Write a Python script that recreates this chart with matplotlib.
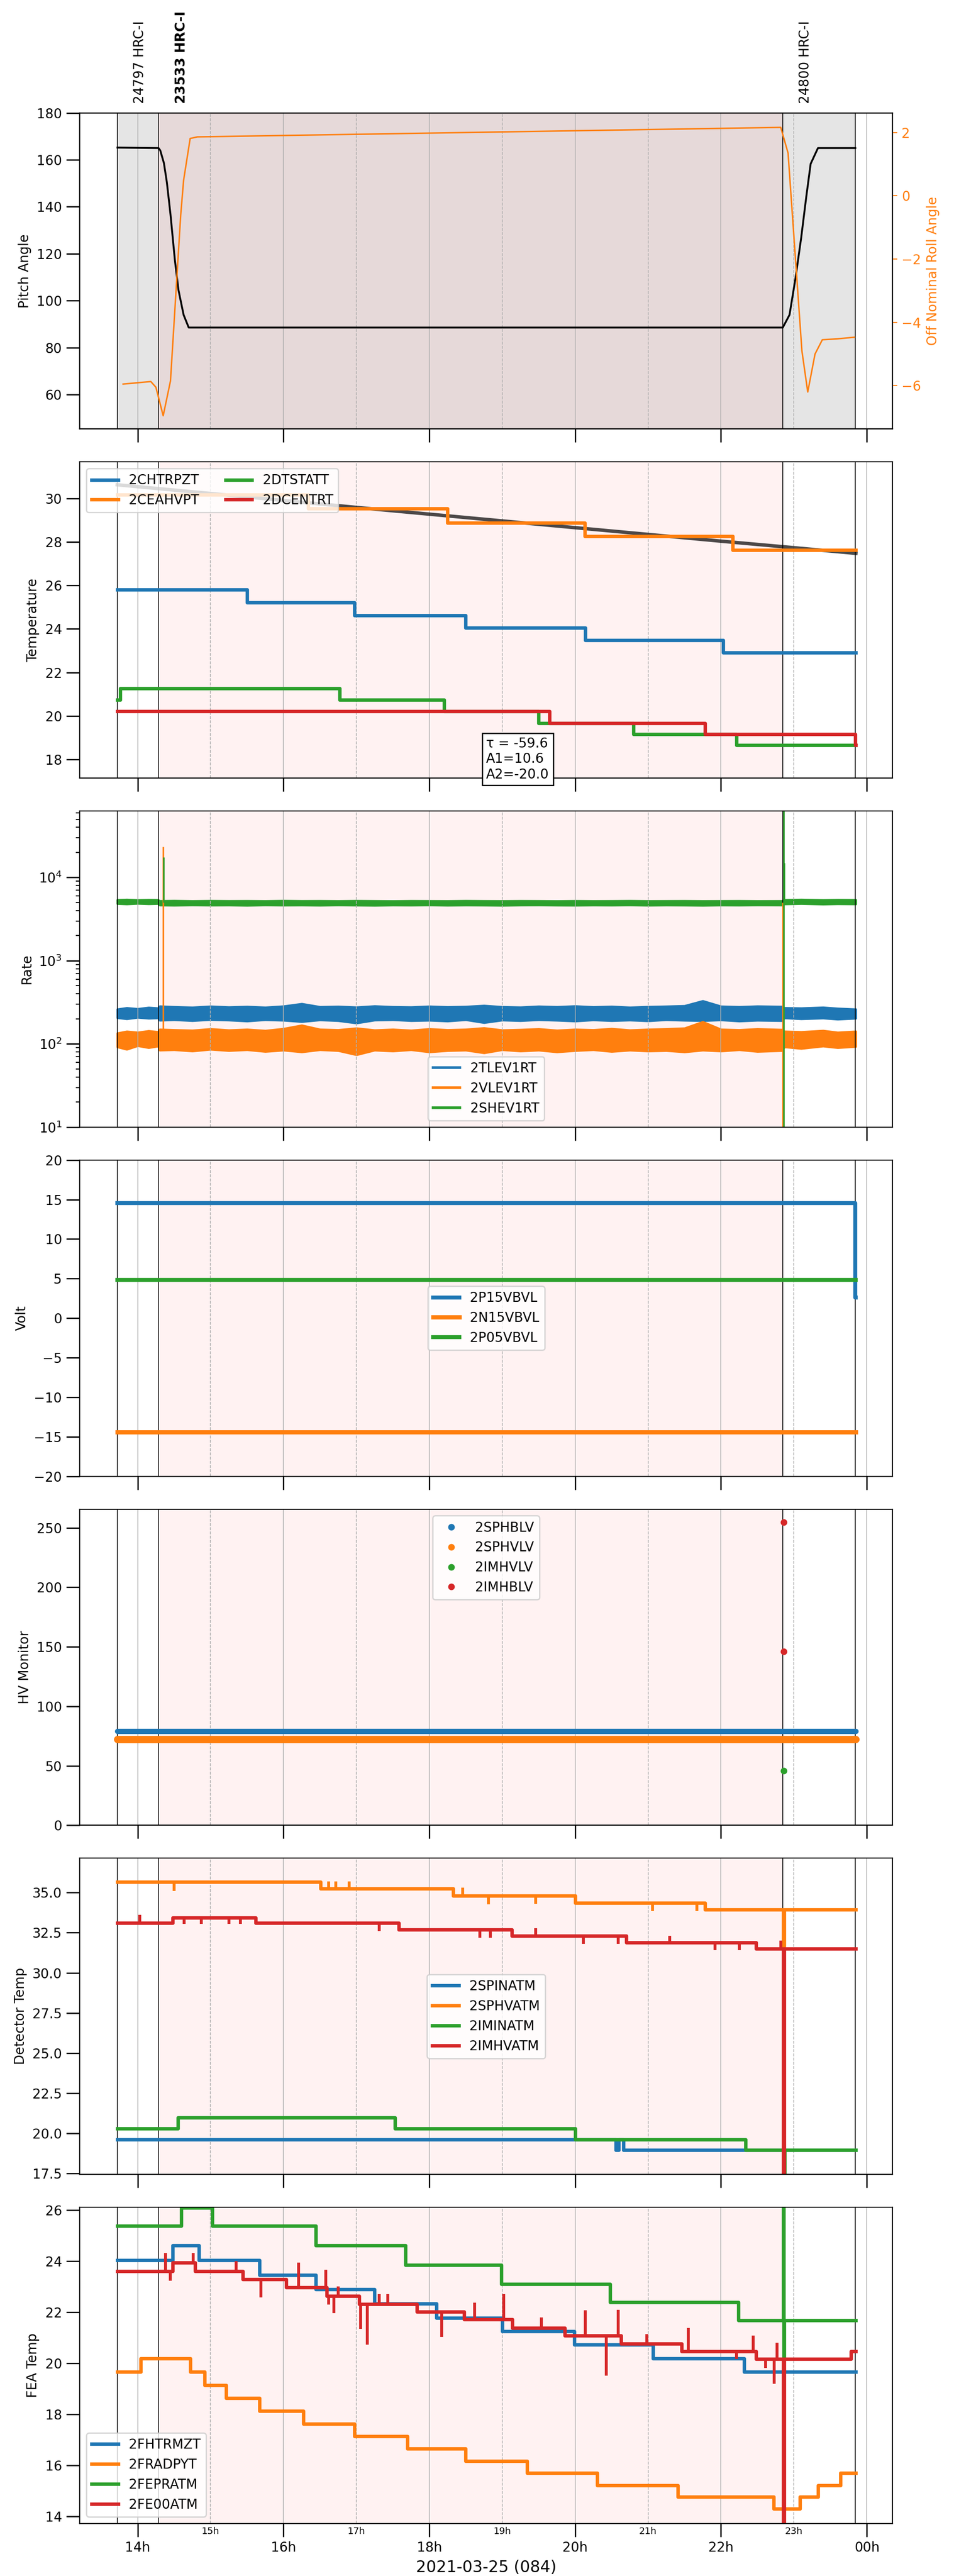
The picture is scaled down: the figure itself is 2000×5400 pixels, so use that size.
import numpy as np
import matplotlib
matplotlib.use("Agg")
import matplotlib.pyplot as plt
from matplotlib.lines import Line2D
from matplotlib.ticker import MultipleLocator, FuncFormatter

# times are decimal hours of 2021-03-25 (day 084)
OBS_START, OBS_END = 13.723, 23.843
SCI_START, SCI_END = 14.286, 22.848
EVENT_TIMES = [13.723, 14.286, 22.848, 23.843]
OBS_LABELS = ["24797 HRC-I", "23533 HRC-I", "24800 HRC-I"]
OBS_LABEL_TIMES = [13.723, 14.286, 22.848]
OBS_LABEL_BOLD = [False, True, False]

# pitch / roll
pitch_t = [13.723, 14.286, 14.31, 14.36, 14.40, 14.45, 14.51, 14.56, 14.63, 14.70,
           22.848, 22.94, 23.02, 23.10, 23.17, 23.23, 23.33, 23.843]
pitch_v = [165.2, 165.0, 164.0, 158.6, 150.5, 136.8, 117.4, 104.5, 94.0, 88.6,
           88.6, 94.0, 109.2, 126.8, 144.3, 158.3, 165.0, 165.0]
roll_t = [13.80, 14.18, 14.25, 14.35, 14.45, 14.59, 14.63, 14.72, 14.82, 22.82,
          22.92, 22.98, 23.11, 23.19, 23.29, 23.39, 23.60, 23.83]
roll_v = [-5.95, -5.87, -6.05, -6.95, -5.85, -0.62, 0.49, 1.81, 1.86, 2.16,
          1.35, -0.62, -4.9, -6.2, -5.0, -4.55, -4.52, -4.47]

# temperature
fit_t = [13.72, 15.0, 16.0, 17.0, 18.0, 19.0, 20.0, 21.0, 22.0, 23.0, 23.85]
fit_v = [30.62, 30.22, 29.90, 29.58, 29.27, 28.96, 28.65, 28.34, 28.03, 27.73, 27.47]
chtrpzt_t = [13.72, 15.50, 16.97, 18.50, 20.14, 22.03, 23.85]
chtrpzt_v = [25.80, 25.21, 24.62, 24.05, 23.49, 22.92, 22.92]
ceahvpt_t = [13.72, 16.34, 18.25, 20.13, 22.16, 23.85]
ceahvpt_v = [30.17, 29.52, 28.88, 28.25, 27.63, 27.63]
dtstatt_t = [13.72, 13.76, 16.77, 18.20, 19.50, 20.80, 22.21, 23.85]
dtstatt_v = [20.75, 21.28, 20.75, 20.21, 19.68, 19.17, 18.67, 18.67]
dcentrt_t = [13.72, 19.65, 21.78, 23.84, 23.85]
dcentrt_v = [20.21, 19.68, 19.17, 18.67, 18.67]
fit_text = "\u03c4 = -59.6\nA1=10.6\nA2=-20.0"

# rates (band envelopes)
rate_t = [13.72, 13.85, 14.0, 14.15, 14.28, 14.30, 14.5, 14.75, 15.0, 15.25, 15.5, 15.75,
          16.0, 16.25, 16.5, 16.75, 17.0, 17.25, 17.5, 17.75, 18.0, 18.25, 18.5, 18.75,
          19.0, 19.25, 19.5, 19.75, 20.0, 20.25, 20.5, 20.75, 21.0, 21.25, 21.5, 21.75,
          22.0, 22.25, 22.5, 22.84, 22.87, 23.1, 23.4, 23.6, 23.85]
tlev_hi = [262, 272, 265, 275, 270, 285, 280, 276, 284, 278, 282, 276, 285, 305, 280,
           283, 277, 286, 280, 278, 284, 279, 282, 290, 280, 277, 284, 280, 286, 279,
           283, 276, 281, 284, 288, 330, 284, 280, 285, 282, 272, 270, 276, 268, 262]
tlev_lo = [206, 200, 208, 203, 205, 192, 195, 190, 196, 193, 188, 195, 192, 185, 194,
           190, 178, 193, 195, 190, 192, 188, 195, 180, 193, 190, 195, 192, 188, 194,
           190, 193, 189, 195, 192, 190, 194, 188, 192, 190, 205, 200, 204, 198, 203]
vlev_hi = [135, 142, 138, 144, 140, 150, 148, 146, 152, 147, 150, 145, 153, 168, 150,
           148, 155, 147, 150, 146, 152, 148, 150, 156, 147, 149, 152, 146, 150, 148,
           153, 147, 150, 152, 155, 185, 150, 148, 152, 149, 142, 140, 145, 138, 142]
vlev_lo = [92, 86, 95, 90, 94, 84, 85, 82, 86, 83, 85, 81, 84, 80, 85,
           83, 74, 84, 82, 85, 80, 83, 84, 78, 85, 82, 84, 80, 83, 85,
           81, 84, 82, 83, 80, 84, 82, 85, 81, 83, 92, 88, 94, 90, 93]
shev_hi = [5400, 5450, 5380, 5420, 5400, 5250, 5280, 5240, 5270, 5250, 5260, 5240, 5280,
           5250, 5260, 5240, 5270, 5250, 5230, 5260, 5250, 5240, 5270, 5250, 5240, 5260,
           5250, 5230, 5260, 5240, 5250, 5270, 5240, 5250, 5260, 5240, 5250, 5260, 5240,
           5250, 5400, 5450, 5380, 5420, 5400]
shev_lo = [4850, 4800, 4870, 4820, 4850, 4650, 4630, 4660, 4640, 4650, 4620, 4660, 4640,
           4650, 4630, 4660, 4640, 4620, 4650, 4640, 4660, 4630, 4650, 4640, 4620, 4650,
           4660, 4640, 4630, 4650, 4640, 4660, 4630, 4650, 4640, 4620, 4650, 4640, 4660,
           4650, 4800, 4850, 4780, 4820, 4800]
vlev_spike_t = [14.35, 22.85]
vlev_spike_lo = [120, 1]
vlev_spike_hi = [2.35e4, 5000]
shev_spike_t = [14.355, 22.86, 22.865]
shev_spike_lo = [5000, 1, 5000]
shev_spike_hi = [1.75e4, 1e6, 1.5e4]

# volts
p15vbvl_t = [13.72, 23.843, 23.846]
p15vbvl_v = [14.57, 2.6, 2.6]
n15vbvl_t = [13.72, 23.85]
n15vbvl_v = [-14.44, -14.44]
p05vbvl_t = [13.72, 23.85]
p05vbvl_v = [4.86, 4.86]

# HV monitor
sphblv_t = [13.72, 23.85]
sphblv_v = [79.0, 79.0]
sphvlv_t = [13.72, 23.85]
sphvlv_v = [72.1, 72.1]
imhvlv_t = [22.86]
imhvlv_v = [46.0]
imhblv_t = [22.86, 22.86]
imhblv_v = [254.6, 146.1]

# detector temps
spinatm_t = [13.72, 20.56, 20.60, 20.66, 23.85]
spinatm_v = [19.62, 18.96, 19.62, 18.96, 18.96]
sphvatm_t = [13.72, 16.51, 18.33, 20.00, 21.78, 22.855, 22.865, 23.85]
sphvatm_v = [35.65, 35.24, 34.80, 34.36, 33.95, 31.65, 33.95, 33.95]
sphvatm_spike_t = [14.50, 16.62, 16.72, 16.90, 18.46, 18.81, 19.46, 21.06, 21.67]
sphvatm_spike_v = [35.10, 35.70, 35.70, 35.70, 35.30, 34.28, 34.30, 33.85, 33.85]
iminatm_t = [13.72, 14.55, 17.53, 20.00, 22.34, 22.865, 22.875, 23.85]
iminatm_v = [20.30, 20.99, 20.30, 19.62, 18.96, 10.0, 18.96, 18.96]
imhvatm_t = [13.72, 14.48, 15.62, 17.58, 19.13, 20.70, 22.48, 22.855, 22.865, 23.85]
imhvatm_v = [33.11, 33.44, 33.11, 32.69, 32.30, 31.90, 31.50, 10.0, 31.50, 31.50]
imhvatm_spike_t = [14.03, 14.64, 14.87, 15.25, 15.41, 17.31, 18.69, 18.84, 19.46,
                   20.11, 20.59, 21.30, 21.92, 22.25, 22.55, 22.82]
imhvatm_spike_v = [33.62, 33.05, 33.05, 33.05, 33.05, 32.61, 32.20, 32.20, 32.79,
                   31.80, 31.80, 32.30, 31.40, 31.40, 31.40, 32.00]

# FEA temps
fhtrmzt_t = [13.72, 14.48, 14.84, 15.67, 16.44, 17.25, 18.10, 19.00, 19.99, 21.07, 22.32, 23.85]
fhtrmzt_v = [24.04, 24.62, 24.04, 23.47, 22.90, 22.34, 21.79, 21.26, 20.73, 20.19, 19.68, 19.68]
fradpyt_t = [13.72, 14.04, 14.72, 14.92, 15.21, 15.67, 16.27, 16.97, 17.70, 18.50,
             19.34, 20.30, 21.41, 22.72, 23.08, 23.33, 23.64, 23.85]
fradpyt_v = [19.68, 20.19, 19.68, 19.15, 18.65, 18.14, 17.64, 17.14, 16.66, 16.18,
             15.71, 15.23, 14.77, 14.31, 14.77, 15.23, 15.71, 15.71]
fepratm_t = [13.72, 14.60, 15.02, 16.44, 17.67, 18.99, 20.48, 22.24, 22.855, 22.862, 22.868, 23.85]
fepratm_v = [25.39, 26.10, 25.39, 24.62, 23.86, 23.12, 22.40, 21.69, 27.0, 20.2, 21.69, 21.69]
fe00atm_t = [13.72, 14.48, 14.79, 15.44, 16.04, 16.59, 17.04, 17.83, 18.48, 19.14,
             19.86, 20.63, 21.46, 22.48, 22.855, 22.865, 23.78, 23.85]
fe00atm_v = [23.61, 23.95, 23.61, 23.30, 22.98, 22.65, 22.33, 22.02, 21.72, 21.39,
             21.09, 20.78, 20.48, 20.18, 10.0, 20.18, 20.48, 20.48]
fe00atm_spike_t = [14.38, 14.45, 14.76, 15.35, 15.69, 16.21, 16.58, 16.62, 16.69, 16.75,
                   17.06, 17.15, 17.31, 17.43, 18.17, 18.62, 19.02, 19.54, 20.14, 20.43,
                   20.59, 20.98, 21.55, 22.21, 22.44, 22.61, 22.73, 22.77]
fe00atm_spike_v = [24.33, 23.24, 24.33, 24.00, 22.59, 23.95, 23.67, 22.30, 21.97, 23.01,
                   21.35, 20.73, 22.71, 22.71, 21.03, 22.39, 22.71, 21.80, 22.08, 19.53,
                   22.10, 21.15, 21.40, 20.17, 21.10, 19.82, 19.21, 20.82]

XLIM = (13.207, 24.352)
STEP_LW = 2.6


def step_at(t_knots, v_knots, t):
    idx = np.searchsorted(np.asarray(t_knots), np.asarray(t), side="right") - 1
    return np.asarray(v_knots)[idx]


def decorate(ax, shade_all=False):
    if shade_all:
        ax.axvspan(OBS_START, OBS_END, color="gray", alpha=0.2, lw=0, zorder=0)
    ax.axvspan(SCI_START, SCI_END, color="red", alpha=0.05, lw=0, zorder=0)
    for t in EVENT_TIMES:
        ax.axvline(t, color="black", lw=0.6, zorder=1.6)
    ax.grid(which="major", axis="x", color="#b0b0b0", lw=0.6)
    ax.grid(which="minor", axis="x", color="#b0b0b0", lw=0.6, ls="--")
    ax.tick_params(axis="y", which="major", length=10, width=1)
    ax.tick_params(axis="y", which="minor", length=2.8, width=0.8)
    ax.tick_params(axis="x", which="major", length=10, width=1)
    ax.tick_params(axis="x", which="minor", length=0, pad=2.5, labelsize=7)


def hour_label(x, pos):
    return f"{int(round(x)) % 24:02d}h"


def plot_pointing(ax):
    decorate(ax, shade_all=True)
    ax.plot(pitch_t, pitch_v, color="black", lw=1.4)
    ax.set_ylim(45.4, 180)
    ax.yaxis.set_major_locator(MultipleLocator(20))
    ax.set_ylabel("Pitch Angle")

    axr = ax.twinx()
    axr.plot(roll_t, roll_v, color="C1", lw=1.1)
    axr.set_ylim(-7.37, 2.62)
    axr.yaxis.set_major_locator(MultipleLocator(2))
    axr.tick_params(axis="y", colors="C1")
    axr.set_ylabel("Off Nominal Roll Angle", color="C1")

    for label, t, bold in zip(OBS_LABELS, OBS_LABEL_TIMES, OBS_LABEL_BOLD):
        ax.annotate(
            label,
            xy=(t, 1), xycoords=("data", "axes fraction"),
            xytext=(17, 7), textcoords="offset points",
            rotation=90, ha="center", va="bottom", fontsize=10,
            fontweight="bold" if bold else "normal",
        )


def plot_temperature(ax):
    decorate(ax)
    ax.plot(fit_t, fit_v, color="black", alpha=0.7, lw=2.6, zorder=2)
    ax.plot(chtrpzt_t, chtrpzt_v, drawstyle="steps-post", lw=STEP_LW, label="2CHTRPZT")
    ax.plot(ceahvpt_t, ceahvpt_v, drawstyle="steps-post", lw=STEP_LW, label="2CEAHVPT")
    ax.plot(dtstatt_t, dtstatt_v, drawstyle="steps-post", lw=STEP_LW, label="2DTSTATT")
    ax.plot(dcentrt_t, dcentrt_v, drawstyle="steps-post", lw=STEP_LW, label="2DCENTRT")
    ax.set_ylim(17.15, 31.67)
    ax.yaxis.set_major_locator(MultipleLocator(2))
    ax.set_ylabel("Temperature")
    ax.legend(loc="upper left", ncol=2)
    ax.text(0.5, 0.06, fit_text, transform=ax.transAxes, ha="left", va="center",
            fontsize=10, zorder=10,
            bbox=dict(boxstyle="square,pad=0.3", facecolor="white", edgecolor="black"))


def plot_rates(ax):
    decorate(ax)
    ax.set_yscale("log")
    ax.fill_between(rate_t, tlev_lo, tlev_hi, color="C0", lw=1.5)
    ax.fill_between(rate_t, vlev_lo, vlev_hi, color="C1", lw=1.5)
    ax.fill_between(rate_t, shev_lo, shev_hi, color="C2", lw=1.5)
    ax.vlines(vlev_spike_t, vlev_spike_lo, vlev_spike_hi, color="C1", lw=1.2)
    ax.vlines(shev_spike_t, shev_spike_lo, shev_spike_hi, color="C2", lw=1.2)
    ax.set_ylim(10, 6.3e4)
    ax.set_ylabel("Rate")
    handles = [Line2D([], [], color=f"C{i}", lw=2) for i in range(3)]
    ax.legend(handles, ["2TLEV1RT", "2VLEV1RT", "2SHEV1RT"], loc="lower center")


def plot_volts(ax):
    decorate(ax)
    ax.plot(p15vbvl_t, p15vbvl_v, drawstyle="steps-post", lw=3, label="2P15VBVL")
    ax.plot(n15vbvl_t, n15vbvl_v, lw=3.2, label="2N15VBVL")
    ax.plot(p05vbvl_t, p05vbvl_v, lw=3, label="2P05VBVL")
    ax.set_ylim(-20, 20)
    ax.yaxis.set_major_locator(MultipleLocator(5))
    ax.set_ylabel("Volt")
    ax.legend(loc="center")


def plot_hv(ax):
    decorate(ax)
    ax.plot(sphblv_t, sphblv_v, color="C0", lw=4, solid_capstyle="round")
    ax.plot(sphvlv_t, sphvlv_v, color="C1", lw=5.5, solid_capstyle="round")
    ax.plot(imhvlv_t, imhvlv_v, ".", color="C2", ms=8)
    ax.plot(imhblv_t, imhblv_v, ".", color="C3", ms=8)
    ax.set_ylim(0, 265.7)
    ax.yaxis.set_major_locator(MultipleLocator(50))
    ax.set_ylabel("HV Monitor")
    handles = [Line2D([], [], color=f"C{i}", marker=".", ls="none", ms=8) for i in range(4)]
    ax.legend(handles, ["2SPHBLV", "2SPHVLV", "2IMHVLV", "2IMHBLV"], loc="upper center")


def plot_detector(ax):
    decorate(ax)
    ax.plot(spinatm_t, spinatm_v, drawstyle="steps-post", lw=STEP_LW, label="2SPINATM")
    ax.plot(sphvatm_t, sphvatm_v, drawstyle="steps-post", lw=STEP_LW, label="2SPHVATM")
    ax.vlines(sphvatm_spike_t, step_at(sphvatm_t, sphvatm_v, sphvatm_spike_t),
              sphvatm_spike_v, color="C1", lw=2.2)
    ax.plot(iminatm_t, iminatm_v, drawstyle="steps-post", lw=STEP_LW, label="2IMINATM")
    ax.plot(imhvatm_t, imhvatm_v, drawstyle="steps-post", lw=STEP_LW, label="2IMHVATM")
    ax.vlines(imhvatm_spike_t, step_at(imhvatm_t, imhvatm_v, imhvatm_spike_t),
              imhvatm_spike_v, color="C3", lw=2.2)
    ax.set_ylim(17.45, 37.14)
    ax.yaxis.set_major_locator(MultipleLocator(2.5))
    ax.set_ylabel("Detector Temp")
    ax.legend(loc="center")


def plot_fea(ax):
    decorate(ax)
    ax.plot(fhtrmzt_t, fhtrmzt_v, drawstyle="steps-post", lw=STEP_LW, label="2FHTRMZT")
    ax.plot(fradpyt_t, fradpyt_v, drawstyle="steps-post", lw=STEP_LW, label="2FRADPYT")
    ax.plot(fepratm_t, fepratm_v, drawstyle="steps-post", lw=STEP_LW, label="2FEPRATM")
    ax.plot(fe00atm_t, fe00atm_v, drawstyle="steps-post", lw=STEP_LW, label="2FE00ATM")
    ax.vlines(fe00atm_spike_t, step_at(fe00atm_t, fe00atm_v, fe00atm_spike_t),
              fe00atm_spike_v, color="C3", lw=2.2)
    ax.set_ylim(13.73, 26.12)
    ax.yaxis.set_major_locator(MultipleLocator(2))
    ax.set_ylabel("FEA Temp")
    ax.legend(loc="lower left")


def main():
    fig, axes = plt.subplots(7, 1, figsize=(10, 27), dpi=200, sharex=True)
    fig.subplots_adjust(left=0.0837, right=0.9355, top=0.9562, bottom=0.0204, hspace=0.104)

    plot_pointing(axes[0])
    plot_temperature(axes[1])
    plot_rates(axes[2])
    plot_volts(axes[3])
    plot_hv(axes[4])
    plot_detector(axes[5])
    plot_fea(axes[6])

    bottom = axes[-1]
    bottom.set_xlim(*XLIM)
    bottom.xaxis.set_major_locator(MultipleLocator(2))
    bottom.xaxis.set_minor_locator(MultipleLocator(1))
    bottom.xaxis.set_major_formatter(FuncFormatter(hour_label))
    bottom.xaxis.set_minor_formatter(FuncFormatter(hour_label))
    bottom.set_xlabel("2021-03-25 (084)", fontsize=12)

    fig.savefig("out.png", dpi=200)
    plt.close(fig)


if __name__ == "__main__":
    main()
